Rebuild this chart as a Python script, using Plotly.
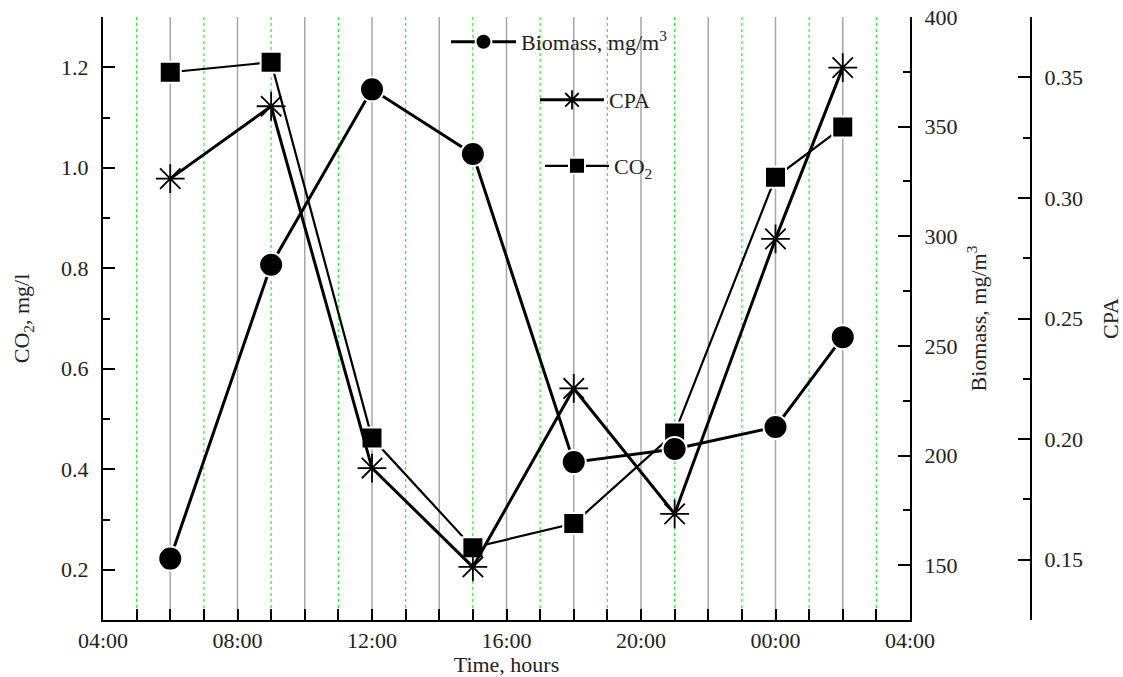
import plotly.graph_objects as go
import datetime as dt

# ---- data ----
times = ["2000-01-01 06:00", "2000-01-01 09:00", "2000-01-01 12:00", "2000-01-01 15:00",
         "2000-01-01 18:00", "2000-01-01 21:00", "2000-01-02 00:00", "2000-01-02 02:00"]
co2 = [1.19, 1.21, 0.462, 0.244, 0.292, 0.472, 0.981, 1.081]
biomass = [153, 287, 367, 337.5, 197, 203, 213, 254]
cpa = [0.308, 0.338, 0.188, 0.147, 0.221, 0.169, 0.283, 0.354]

x_range = ["2000-01-01 04:00", "2000-01-02 04:00"]
co2_range = [0.1, 1.3]
biomass_range = [125, 400]
cpa_range = [0.125, 0.375]

FONT = "Liberation Serif"
FS = 22
TXT = "#222222"

fig = go.Figure()

fig.add_trace(go.Scatter(
    x=times, y=co2, name="CO<sub>2</sub>", mode="lines+markers", yaxis="y",
    line=dict(color="black", width=2.2),
    marker=dict(symbol="square", size=21, color="black", line=dict(color="white", width=2)),
    legend="legend3", showlegend=True))
fig.add_trace(go.Scatter(
    x=times, y=cpa, name="CPA", mode="lines+markers", yaxis="y2",
    line=dict(color="black", width=3),
    marker=dict(symbol="asterisk-open", size=24, color="black", line=dict(color="black", width=1.8)),
    legend="legend2", showlegend=True))
fig.add_trace(go.Scatter(
    x=times, y=biomass, name="Biomass, mg/m<sup>3</sup>", mode="lines+markers", yaxis="y3",
    line=dict(color="black", width=3),
    marker=dict(symbol="circle", size=24, color="black", line=dict(color="white", width=2)),
    legend="legend", showlegend=True))

# vertical grid lines (solid grey on even hours, dotted green on odd hours)
t0 = dt.datetime(2000, 1, 1, 4, 0)
for h in range(1, 24):
    t = (t0 + dt.timedelta(hours=h)).strftime("%Y-%m-%d %H:%M")
    if h % 2 == 0:
        fig.add_shape(type="line", xref="x", yref="y domain", x0=t, x1=t, y0=0, y1=1,
                      line=dict(color="#a6a6a6", width=1.5), layer="below")
    else:
        fig.add_shape(type="line", xref="x", yref="y domain", x0=t, x1=t, y0=0, y1=1,
                      line=dict(color="#33ee33", width=1.2, dash="dot"), layer="below")

axis_common = dict(showline=True, linecolor="black", linewidth=2, ticks="inside",
                   tickcolor="black", tickwidth=2, ticklen=12, showgrid=False, zeroline=False,
                   automargin=False,
                   tickfont=dict(family=FONT, size=FS, color=TXT))

legend_common = dict(bgcolor="rgba(0,0,0,0)", font=dict(family=FONT, size=FS, color=TXT),
                     xanchor="left", yanchor="middle", visible=True)

fig.update_layout(
    width=1123, height=677,
    margin=dict(l=103, r=92, t=17, b=57, autoexpand=False),
    paper_bgcolor="white", plot_bgcolor="white",
    showlegend=True,
    font=dict(family=FONT, size=FS, color=TXT),
    xaxis=dict(type="date", range=x_range, domain=[0, 807 / 928],
               tick0="2000-01-01 04:00", dtick=4 * 3600 * 1000, tickformat="%H:%M",
               minor=dict(dtick=3600 * 1000, ticks="inside", ticklen=11, tickwidth=2, tickcolor="black"),
               ticklabelstandoff=0,
               title=dict(text="Time, hours", font=dict(family=FONT, size=FS, color=TXT), standoff=9),
               **{**axis_common, "ticklen": 11}),
    yaxis=dict(range=co2_range, tick0=0.2, dtick=0.2, tickformat=".1f",
               minor=dict(dtick=0.1, ticks="inside", ticklen=7, tickwidth=2, tickcolor="black"),
               ticklabelstandoff=8,
               title=dict(text="CO<sub>2</sub>, mg/l", font=dict(family=FONT, size=FS, color=TXT), standoff=25),
               **axis_common),
    yaxis2=dict(range=cpa_range, overlaying="y", side="right", anchor="free", position=1.0,
                tick0=0.15, dtick=0.05, tickformat=".2f",
                minor=dict(dtick=0.025, ticks="inside", ticklen=7, tickwidth=2, tickcolor="black"),
                ticklabelstandoff=8,
                title=dict(text="CPA", font=dict(family=FONT, size=FS, color=TXT), standoff=24),
                **axis_common),
    yaxis3=dict(range=biomass_range, overlaying="y", side="right", anchor="x",
                tick0=150, dtick=50,
                minor=dict(dtick=25, ticks="inside", ticklen=7, tickwidth=2, tickcolor="black"),
                ticklabelstandoff=8,
                title=dict(text="Biomass, mg/m<sup>3</sup>", font=dict(family=FONT, size=FS, color=TXT), standoff=14),
                **axis_common),
    legend=dict(x=(446 - 103) / 928, y=(620 - 42) / 603, itemwidth=65, **legend_common),
    legend2=dict(x=(535 - 103) / 928, y=(620 - 100) / 603, itemwidth=64, **legend_common),
    legend3=dict(x=(540 - 103) / 928, y=(620 - 166) / 603, itemwidth=64, **legend_common),
)

fig.write_html("out.html")
